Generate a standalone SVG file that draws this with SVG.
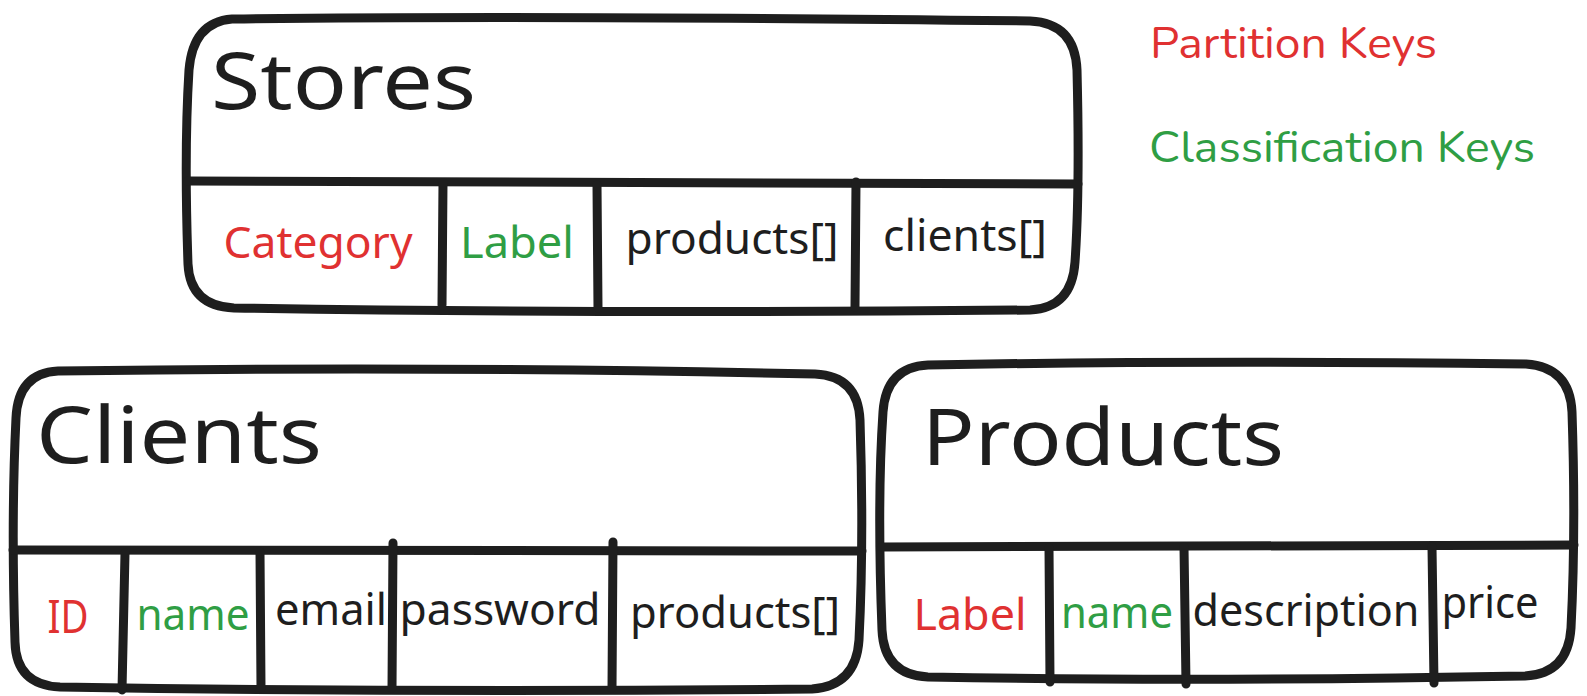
<svg xmlns="http://www.w3.org/2000/svg" width="1587" height="696" viewBox="0 0 1587 696">
<style>
.box{fill:#ffffff;stroke:#1e1e1e;stroke-width:9;stroke-linejoin:round;stroke-linecap:round}
.ln{fill:none;stroke:#1e1e1e;stroke-width:9;stroke-linecap:round}
.t{font-family:"Noto Sans","Open Sans",sans-serif;fill:#1e1e1e}
.title{font-size:78px}
.cell{font-size:44px;text-anchor:middle}
.red{fill:#e03131}
.green{fill:#2f9e44}
.leg{font-family:"Nunito","Lato","Noto Sans",sans-serif;font-size:44px}
</style>
<rect width="1587" height="696" fill="#ffffff"/>

<g id="legend">
<text class="leg red" x="1150" y="58" textLength="287" lengthAdjust="spacingAndGlyphs">Partition Keys</text>
<text class="leg green" x="1149" y="162" textLength="386" lengthAdjust="spacingAndGlyphs">Classification Keys</text>
</g>

<g id="stores">
<path class="box" d="M232 19 Q520 15 1030 21 Q1075 23 1077 70 Q1080 190 1075 262 Q1072 308 1030 310 Q600 314 234 308 Q190 306 188 264 Q184 150 189 70 Q193 22 232 19 Z"/>
<path class="ln" d="M188 181 L1078 184"/>
<path class="ln" d="M443 183 L442 305"/>
<path class="ln" d="M597 185 L598 308"/>
<path class="ln" d="M856 182 L855 307"/>
<text class="t title" x="211" y="109" textLength="265" lengthAdjust="spacingAndGlyphs">Stores</text>
<text class="t cell red" x="318" y="258" textLength="189" lengthAdjust="spacingAndGlyphs">Category</text>
<text class="t cell green" x="517" y="258" textLength="114" lengthAdjust="spacingAndGlyphs">Label</text>
<text class="t cell" x="732" y="254" textLength="213" lengthAdjust="spacingAndGlyphs">products[]</text>
<text class="t cell" x="965" y="251" textLength="164" lengthAdjust="spacingAndGlyphs">clients[]</text>
</g>

<g id="clients">
<path class="box" d="M58 371 Q450 366 815 374 Q858 376 860 420 Q864 540 859 640 Q856 686 812 689 Q430 693 60 687 Q16 685 15 642 Q11 520 16 418 Q18 373 58 371 Z"/>
<path class="ln" d="M13 550 L862 551"/>
<path class="ln" d="M125 553 L122 690"/>
<path class="ln" d="M260 552 L261 688"/>
<path class="ln" d="M393 543 L392 688"/>
<path class="ln" d="M613 542 L612 688"/>
<text class="t title" x="36" y="463" textLength="286" lengthAdjust="spacingAndGlyphs">Clients</text>
<text class="t cell red" x="68" y="633" textLength="41" lengthAdjust="spacingAndGlyphs" style="font-size:46px">ID</text>
<text class="t cell green" x="193" y="630" textLength="113" lengthAdjust="spacingAndGlyphs">name</text>
<text class="t cell" x="331" y="625" textLength="112" lengthAdjust="spacingAndGlyphs">email</text>
<text class="t cell" x="500" y="625" textLength="201" lengthAdjust="spacingAndGlyphs">password</text>
<text class="t cell" x="735" y="628" textLength="210" lengthAdjust="spacingAndGlyphs">products[]</text>
</g>

<g id="products">
<path class="box" d="M928 365 Q1200 360 1526 364 Q1570 367 1572 412 Q1576 530 1571 628 Q1568 674 1525 676 Q1200 682 928 677 Q884 675 882 630 Q877 500 883 412 Q886 367 928 365 Z"/>
<path class="ln" d="M882 547 L1574 545"/>
<path class="ln" d="M1049 548 L1050 682"/>
<path class="ln" d="M1184 547 L1186 684"/>
<path class="ln" d="M1432 547 L1434 683"/>
<text class="t title" x="922" y="465" textLength="362" lengthAdjust="spacingAndGlyphs">Products</text>
<text class="t cell red" x="970" y="630" textLength="113" lengthAdjust="spacingAndGlyphs">Label</text>
<text class="t cell green" x="1117" y="628" textLength="112" lengthAdjust="spacingAndGlyphs">name</text>
<text class="t cell" x="1306" y="626" textLength="227" lengthAdjust="spacingAndGlyphs">description</text>
<text class="t cell" x="1490" y="618" textLength="97" lengthAdjust="spacingAndGlyphs">price</text>
</g>

<g id="connectors"></g>
</svg>
